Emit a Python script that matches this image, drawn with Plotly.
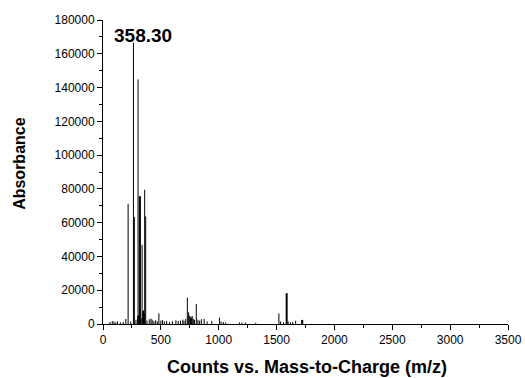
import plotly.graph_objects as go

# m/z positions and intensities of the stick spectrum
mz = [60, 80, 95, 110, 125, 150, 175, 197, 217, 240, 263, 271, 285, 300, 303, 308,
      314, 319, 323, 330, 338, 343, 350, 356, 360, 369, 380, 400, 415, 425, 440,
      455, 470, 483, 500, 515, 530, 550, 575, 600, 630, 650, 670, 690, 700, 715,
      729, 740, 749, 755, 760, 766, 771, 780, 790, 806, 820, 835, 850, 874, 900,
      940, 1006, 1020, 1040, 1060, 1180, 1200, 1230, 1320, 1520, 1535, 1560,
      1583, 1587, 1591, 1600, 1620, 1640, 1665, 1717, 1722, 1726]
intensity = [1200, 1800, 1500, 900, 1600, 1000, 1300, 3000, 71200, 1500, 166500,
             63300, 2500, 4800, 144800, 5200, 75600, 75600, 75600, 3500, 46900, 7500,
             8000, 6500, 79500, 63700, 2000, 2800, 3200, 2500, 1800, 2200, 1500, 6300,
             2000, 2300, 1500, 1800, 1200, 1600, 2200, 1800, 2000, 2600, 1900, 3000,
             15600, 6900, 4800, 3800, 4400, 3500, 4700, 3000, 2500, 11900, 2600, 2000,
             2800, 3000, 1500, 1800, 3800, 1500, 1200, 900, 900, 800, 900, 700, 6300,
             1500, 1000, 18200, 18200, 18200, 1500, 1000, 1300, 2000, 2400, 2400, 2400]

x_ticks = [0, 500, 1000, 1500, 2000, 2500, 3000, 3500]
y_ticks = [0, 20000, 40000, 60000, 80000, 100000, 120000, 140000, 160000, 180000]

peak_label = "358.30"
x_title = "Counts vs. Mass-to-Charge (m/z)"
y_title = "Absorbance"

xs, ys = [], []
for m, v in zip(mz, intensity):
    xs += [m, m, None]
    ys += [0, v, None]

FONT = "Liberation Sans, Arial, sans-serif"

fig = go.Figure()
fig.add_trace(go.Scatter(x=xs, y=ys, mode="lines",
                         line=dict(color="black", width=1),
                         hoverinfo="skip", showlegend=False))

fig.add_annotation(x=343, y=171000, text="<b>%s</b>" % peak_label, showarrow=False,
                   font=dict(family=FONT, size=19, color="black"))
fig.add_annotation(xref="paper", yref="paper", x=0.504, y=-0.141,
                   text="<b>%s</b>" % x_title, showarrow=False,
                   xanchor="center", yanchor="middle",
                   font=dict(family=FONT, size=18, color="black"))
fig.add_annotation(xref="paper", yref="paper", x=-0.205, y=0.53,
                   text="<b>%s</b>" % y_title, showarrow=False, textangle=-90,
                   xanchor="center", yanchor="middle",
                   font=dict(family=FONT, size=16, color="black"))

axis_font = dict(family=FONT, size=12, color="black")

common = dict(showgrid=False, zeroline=False, showline=True, linecolor="black",
              linewidth=1, ticks="outside", ticklen=5, tickwidth=1, tickcolor="black",
              tickfont=axis_font, automargin=False)

fig.update_layout(
    width=525, height=378,
    margin=dict(l=103, r=17, t=20, b=54),
    paper_bgcolor="white", plot_bgcolor="white",
    font=axis_font,
    hovermode=False,
    xaxis=dict(range=[0, 3500], tickvals=x_ticks, ticktext=[str(t) for t in x_ticks],
               minor=dict(dtick=250, ticks="outside", ticklen=3, tickcolor="black"),
               **common),
    yaxis=dict(range=[0, 180000], tickvals=y_ticks, ticktext=[str(t) for t in y_ticks],
               minor=dict(dtick=10000, ticks="outside", ticklen=3, tickcolor="black"),
               **common),
)

fig.write_html("out.html", config={"displayModeBar": False},
               post_script="document.body.style.margin='0';document.body.style.overflow='hidden';")
